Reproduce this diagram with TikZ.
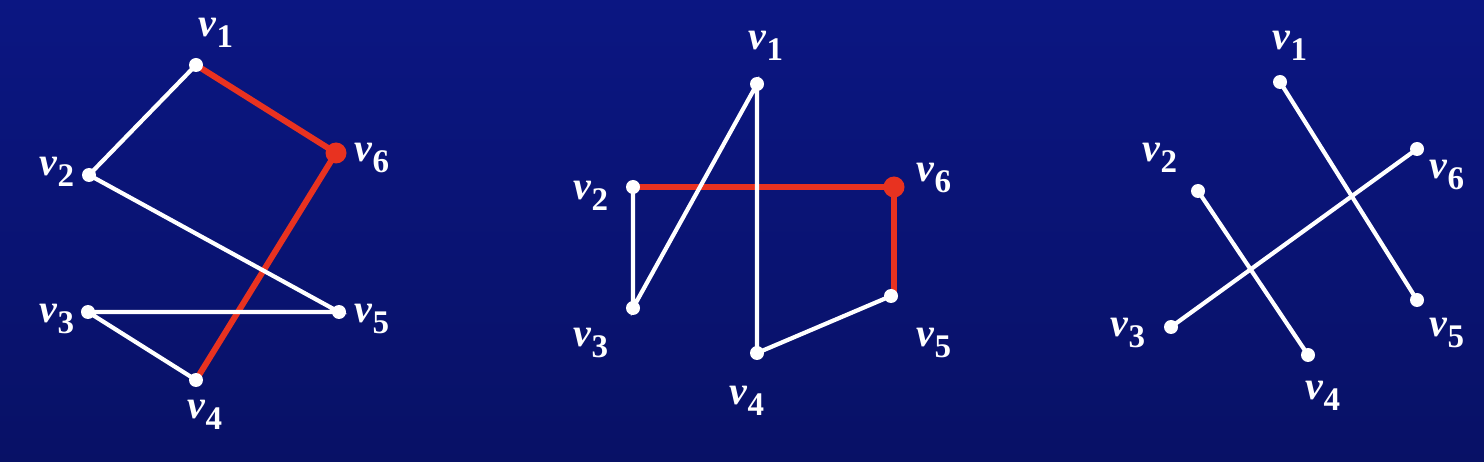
\documentclass[tikz,border=0pt]{standalone}
\usepackage{fontspec}
\setmainfont{Liberation Serif}
\definecolor{bgtop}{RGB}{11,22,130}
\definecolor{bgbot}{RGB}{8,17,102}
\definecolor{edgered}{RGB}{232,50,32}
\newcommand{\vlab}[1]{{\fontsize{40}{40}\selectfont\bfseries\itshape v}\raisebox{-11pt}{\fontsize{33}{33}\selectfont\bfseries #1}}
\begin{document}
\begin{tikzpicture}[x=1pt,y=-1pt,
  wedge/.style={draw=white,line width=4.2pt},
  redge/.style={draw=edgered,line width=6pt},
  wdot/.style={circle,fill=white,inner sep=0pt,minimum size=14pt},
  rdot/.style={circle,fill=edgered,inner sep=0pt,minimum size=21pt},
  lab/.style={text=white,inner sep=0pt,anchor=center}]
\shade[top color=bgtop,bottom color=bgbot] (0,0) rectangle (1484,462);
\useasboundingbox (0,0) rectangle (1484,462);
% panel 1
\coordinate (a1) at (196,65);
\coordinate (a2) at (89,175);
\coordinate (a3) at (88,312);
\coordinate (a4) at (196,380);
\coordinate (a5) at (339,312);
\coordinate (a6) at (336,153);
\draw[redge] (a1) -- (a6) -- (a4);
\draw[wedge] (a1) -- (a2) -- (a5) -- (a3) -- (a4);
\node[wdot] (A1) at (a1) {};
\node[wdot] (A2) at (a2) {};
\node[wdot] (A3) at (a3) {};
\node[wdot] (A4) at (a4) {};
\node[wdot] (A5) at (a5) {};
\node[rdot] (A6) at (a6) {};
\node[lab] (LA1) at (216,33) {\vlab{1}};
\node[lab] (LA2) at (57,172) {\vlab{2}};
\node[lab] (LA3) at (57,319) {\vlab{3}};
\node[lab] (LA4) at (205,415) {\vlab{4}};
\node[lab] (LA5) at (372,319) {\vlab{5}};
\node[lab] (LA6) at (372,158) {\vlab{6}};
% panel 2
\coordinate (b1) at (757,84);
\coordinate (b2) at (633,187);
\coordinate (b3) at (633,308);
\coordinate (b4) at (757,353);
\coordinate (b5) at (891,296);
\coordinate (b6) at (894,187);
\draw[redge] (b2) -- (b6) -- (b6 |- b5);
\draw[wedge] (b2) -- (b3) -- (b1) -- (b4) -- (b5);
\node[wdot] (B1) at (b1) {};
\node[wdot] (B2) at (b2) {};
\node[wdot] (B3) at (b3) {};
\node[wdot] (B4) at (b4) {};
\node[wdot] (B5) at (b5) {};
\node[rdot] (B6) at (b6) {};
\node[lab] (LB1) at (766,46) {\vlab{1}};
\node[lab] (LB2) at (591,196) {\vlab{2}};
\node[lab] (LB3) at (591,343) {\vlab{3}};
\node[lab] (LB4) at (747,401) {\vlab{4}};
\node[lab] (LB5) at (934,343) {\vlab{5}};
\node[lab] (LB6) at (934,178) {\vlab{6}};
% panel 3
\coordinate (c1) at (1280,82);
\coordinate (c2) at (1198,191);
\coordinate (c3) at (1171,327);
\coordinate (c4) at (1308,355);
\coordinate (c5) at (1417,300);
\coordinate (c6) at (1417,149);
\draw[wedge] (c1) -- (c5);
\draw[wedge] (c2) -- (c4);
\draw[wedge] (c3) -- (c6);
\node[wdot] (C1) at (c1) {};
\node[wdot] (C2) at (c2) {};
\node[wdot] (C3) at (c3) {};
\node[wdot] (C4) at (c4) {};
\node[wdot] (C5) at (c5) {};
\node[wdot] (C6) at (c6) {};
\node[lab] (LC1) at (1290,46) {\vlab{1}};
\node[lab] (LC2) at (1160,158) {\vlab{2}};
\node[lab] (LC3) at (1128,333) {\vlab{3}};
\node[lab] (LC4) at (1323,396) {\vlab{4}};
\node[lab] (LC5) at (1447,333) {\vlab{5}};
\node[lab] (LC6) at (1447,175) {\vlab{6}};
\end{tikzpicture}
\end{document}
